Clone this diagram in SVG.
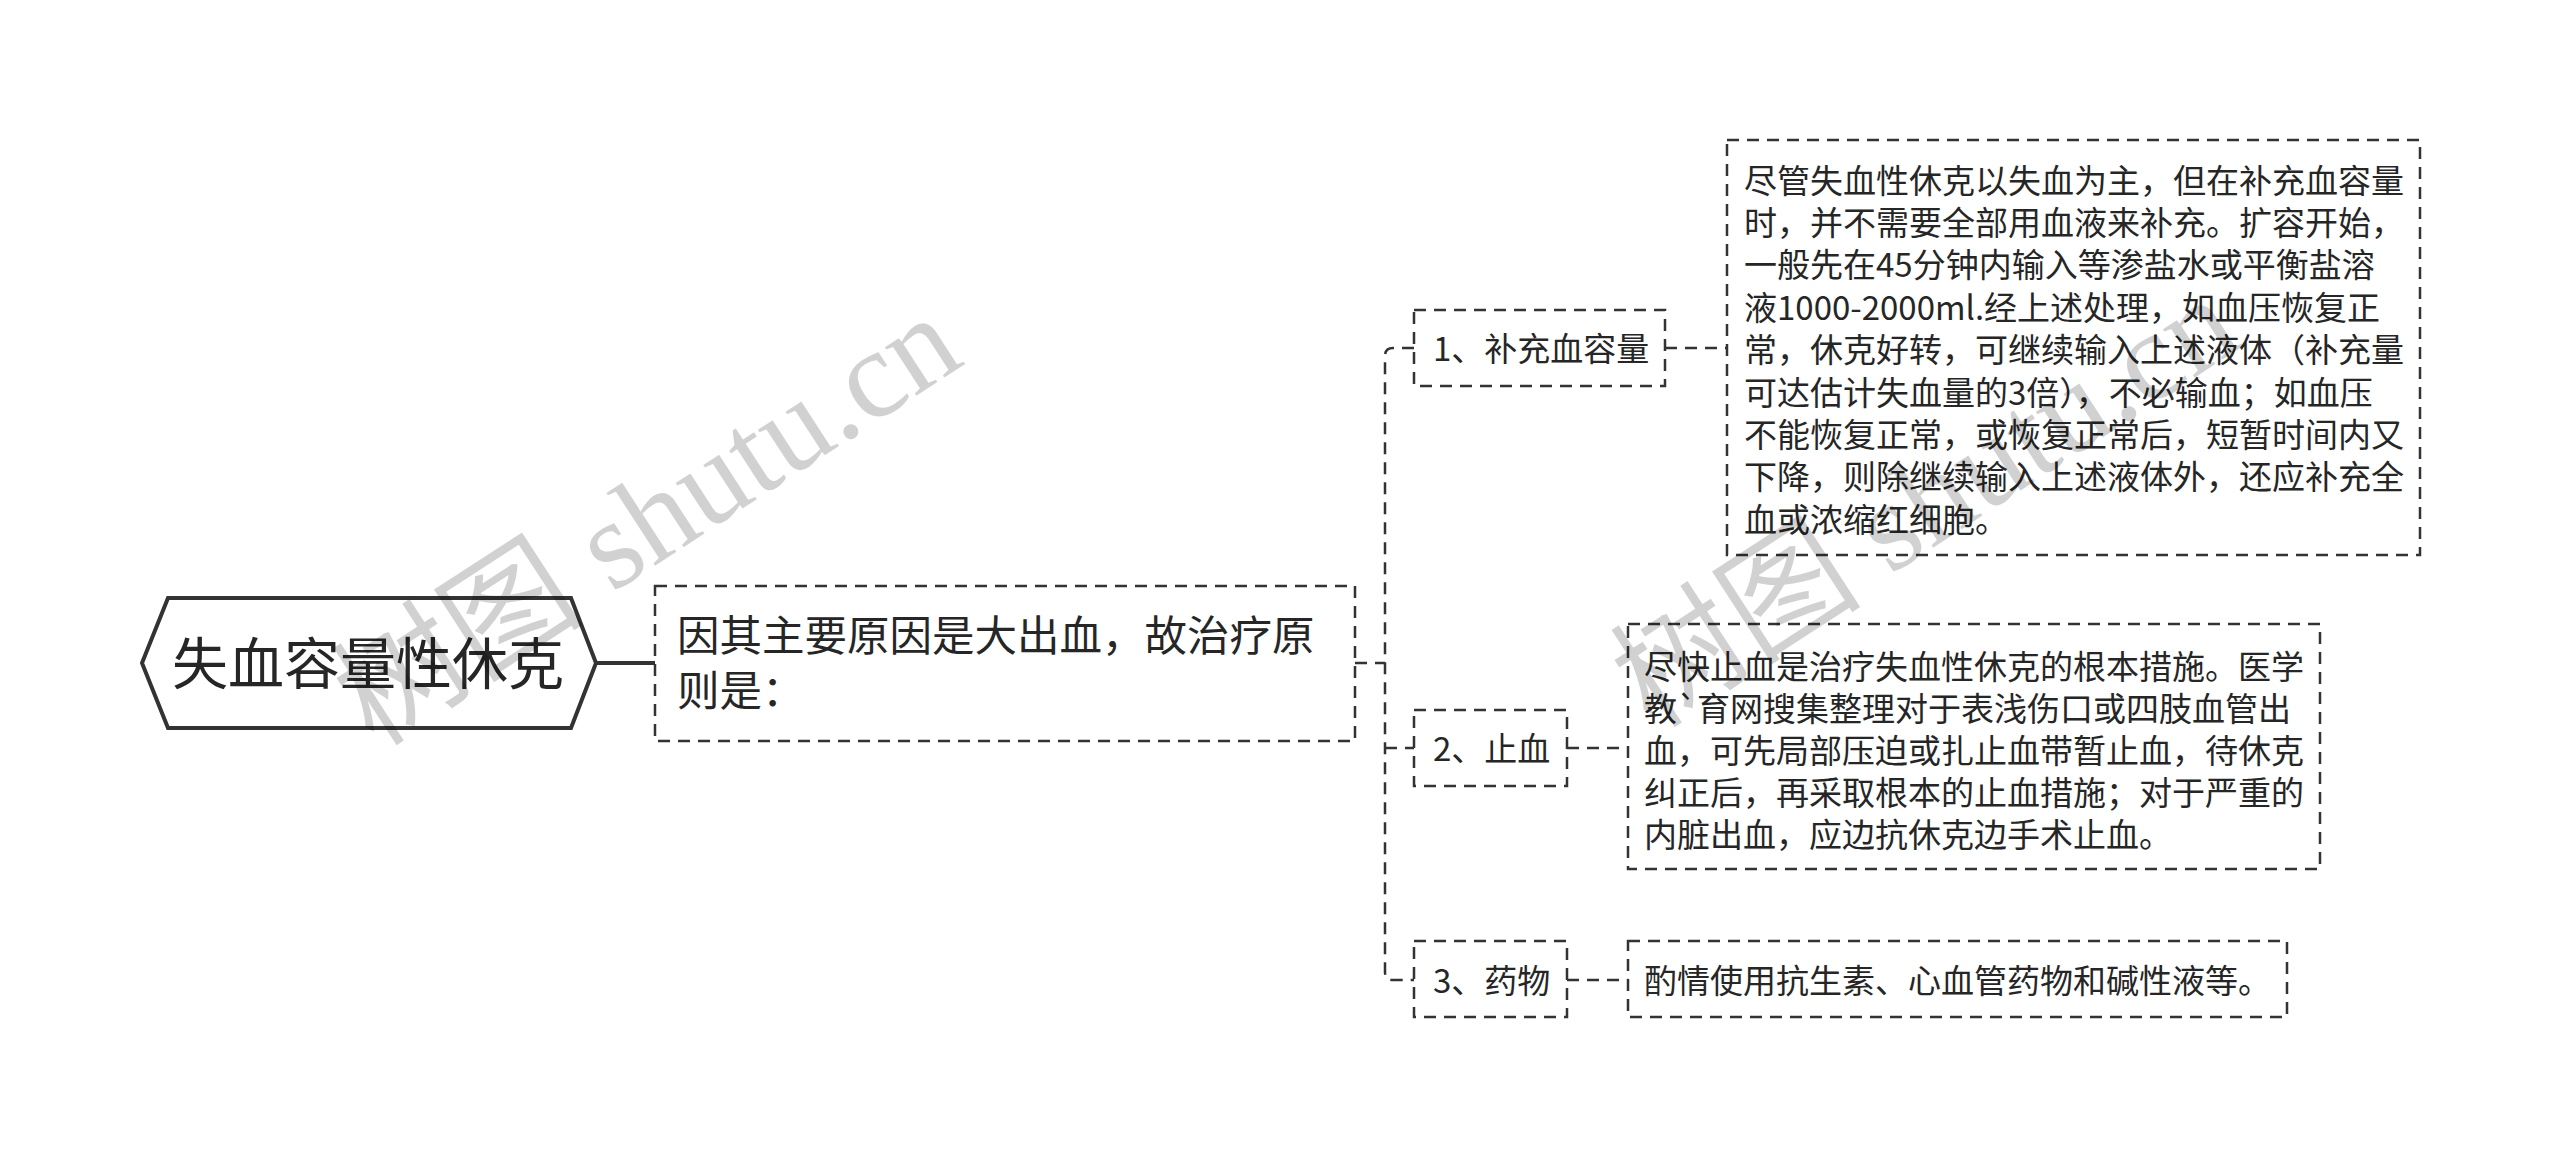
<svg xmlns="http://www.w3.org/2000/svg" width="2560" height="1157" viewBox="0 0 2560 1157">
<style>
.t{font-family:"Noto Sans CJK SC","Microsoft YaHei",sans-serif;fill:#262626;}
.box{fill:#fff;stroke:#333;stroke-width:2.5;stroke-dasharray:12 8;}
.conn{fill:none;stroke:#333;stroke-width:2.5;stroke-dasharray:12 8;}
.wm{font-family:"Liberation Serif","Noto Sans CJK SC",serif;fill:#000;fill-opacity:0.18;font-size:126px;}
</style>
<rect width="2560" height="1157" fill="#fff"/>
<g id="connectors">
<line x1="596" y1="663" x2="655" y2="663" stroke="#333" stroke-width="4"/>
<path class="conn" d="M1355,663 H1385"/>
<path class="conn" d="M1414,348 H1393 Q1385,348 1385,356 V972 Q1385,980 1393,980 H1414"/>
<path class="conn" d="M1385,748 H1414"/>
<path class="conn" d="M1665,348 H1727"/>
<path class="conn" d="M1567,748 H1628"/>
<path class="conn" d="M1567,980 H1628"/>
</g>
<g id="root">
<polygon points="142,663 168,598 571,598 596,663 571,728 168,728" fill="#fff" stroke="#333" stroke-width="4"/>
<text class="t" x="368" y="684" font-size="56" text-anchor="middle">失血容量性休克</text>
</g>
<g id="principle">
<rect class="box" x="655" y="586" width="700" height="155"/>
<text class="t" font-size="42.5"><tspan x="677" y="651">因其主要原因是大出血，故治疗原</tspan><tspan x="677" y="706">则是：</tspan></text>
</g>
<g id="n1">
<rect class="box" x="1414" y="310" width="251" height="76"/>
<text class="t" x="1433" y="360.5" font-size="33">1、补充血容量</text>
</g>
<g id="n2">
<rect class="box" x="1414" y="710" width="153" height="76"/>
<text class="t" x="1433" y="760.5" font-size="33">2、止血</text>
</g>
<g id="n3">
<rect class="box" x="1414" y="941" width="153" height="76"/>
<text class="t" x="1433" y="992.5" font-size="33">3、药物</text>
</g>
<g id="d1">
<rect class="box" x="1727" y="140" width="693" height="415"/>
<text class="t" font-size="33">
<tspan x="1744" y="192.5">尽管失血性休克以失血为主，但在补充血容量</tspan>
<tspan x="1744" dy="42.4">时，并不需要全部用血液来补充。扩容开始，</tspan>
<tspan x="1744" dy="42.4">一般先在45分钟内输入等渗盐水或平衡盐溶</tspan>
<tspan x="1744" dy="42.4">液1000-2000ml.经上述处理，如血压恢复正</tspan>
<tspan x="1744" dy="42.4">常，休克好转，可继续输入上述液体（补充量</tspan>
<tspan x="1744" dy="42.4">可达估计失血量的3倍），不必输血；如血压</tspan>
<tspan x="1744" dy="42.4">不能恢复正常，或恢复正常后，短暂时间内又</tspan>
<tspan x="1744" dy="42.4">下降，则除继续输入上述液体外，还应补充全</tspan>
<tspan x="1744" dy="42.4">血或浓缩红细胞。</tspan>
</text>
</g>
<g id="d2">
<rect class="box" x="1628" y="624" width="692" height="245"/>
<text class="t" font-size="33">
<tspan x="1644" y="678.5">尽快止血是治疗失血性休克的根本措施。医学</tspan>
<tspan x="1644" dy="42">教`育网搜集整理对于表浅伤口或四肢血管出</tspan>
<tspan x="1644" dy="42">血，可先局部压迫或扎止血带暂止血，待休克</tspan>
<tspan x="1644" dy="42">纠正后，再采取根本的止血措施；对于严重的</tspan>
<tspan x="1644" dy="42">内脏出血，应边抗休克边手术止血。</tspan>
</text>
</g>
<g id="d3">
<rect class="box" x="1628" y="941" width="659" height="76"/>
<text class="t" x="1644" y="992.5" font-size="33">酌情使用抗生素、心血管药物和碱性液等。</text>
</g>
<g id="watermarks">
<text class="wm" transform="translate(374,748) rotate(-33)">树图 shutu.cn</text>
<text class="wm" transform="translate(1652,730) rotate(-33)">树图 shutu.cn</text>
</g>
</svg>
